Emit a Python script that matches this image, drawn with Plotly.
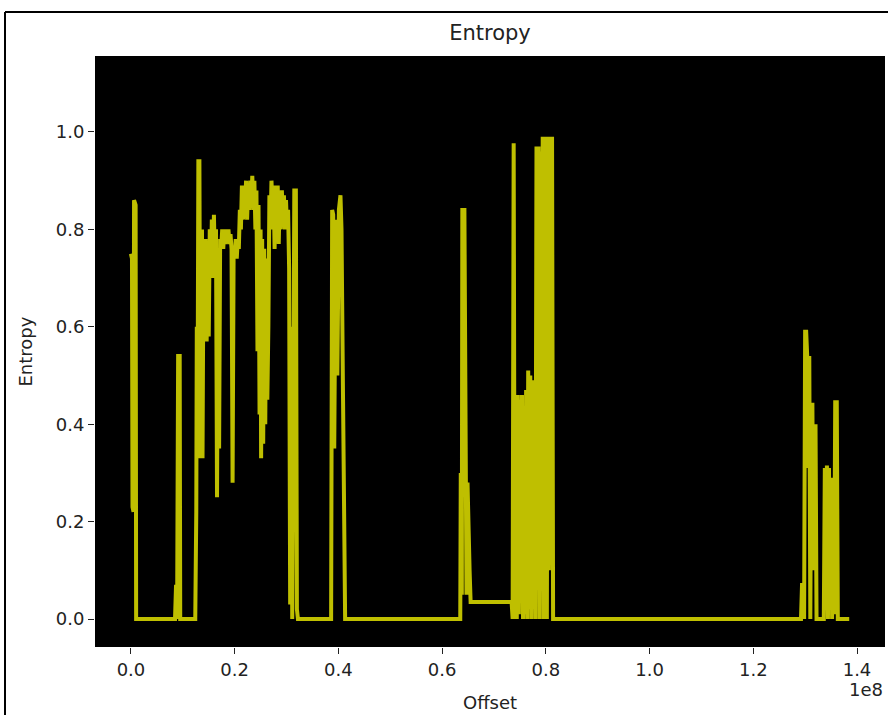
import plotly.graph_objects as go

# offsets in MB (x1e6) and entropy values
offset_mb = [
    0.0, 0.2, 0.3, 0.5, 0.6, 0.9, 1.0, 1.2,
    8.5, 8.7, 8.9, 9.1, 9.4, 9.5, 12.4,
    12.6, 12.7, 12.8, 12.9, 13.0, 13.2, 13.3, 13.4, 13.6, 13.7, 13.8,
    14.0, 14.2, 14.4, 14.6, 14.8, 15.0, 15.2, 15.4, 15.6, 15.8,
    16.0, 16.2, 16.4, 16.6, 16.8, 17.0, 17.2, 17.4, 17.6, 17.8,
    18.0, 18.2, 18.4, 18.6, 18.8, 19.0, 19.2, 19.4, 19.6, 19.8,
    20.0, 20.2, 20.4, 20.6, 20.8, 21.0, 21.2, 21.4, 21.6, 21.8,
    22.0, 22.2, 22.4, 22.6, 22.8, 23.0, 23.2, 23.4, 23.6, 23.8,
    24.0, 24.2, 24.4, 24.6, 24.8, 25.0, 25.1, 25.3, 25.5, 25.7,
    25.9, 26.1, 26.3, 26.5, 26.7, 26.9, 27.1, 27.3, 27.5, 27.7,
    27.9, 28.1, 28.3, 28.5, 28.7, 28.9, 29.1, 29.3, 29.5, 29.7,
    29.9, 30.1, 30.3, 30.5, 30.7, 30.9, 31.1, 31.3, 31.5, 31.8,
    32.0, 32.2,
    38.6, 38.8, 39.0, 39.2, 39.5, 39.8, 40.1, 40.4, 40.6, 40.9, 41.1, 41.3,
    63.5, 63.6, 63.8, 63.9, 64.3, 64.5, 64.7, 64.9, 65.1, 65.3, 65.5,
    73.4, 73.6, 73.8, 74.0, 74.2, 74.4, 74.6, 74.8, 75.0, 75.2, 75.4, 75.6,
    75.8, 76.0, 76.2, 76.4, 76.6, 76.8, 77.0, 77.2, 77.4, 77.6, 77.8, 78.0,
    78.2, 78.4, 78.6, 78.8, 79.0, 79.2, 79.4, 79.6, 79.8, 80.0, 80.2, 80.4,
    80.6, 80.8, 81.0, 81.2, 81.4, 81.6,
    129.2, 129.4, 129.6, 129.8, 130.0, 130.2, 130.4, 130.6, 130.8, 131.0,
    131.2, 131.4, 131.6, 131.8, 132.0, 132.2,
    133.6, 133.8, 134.0, 134.2, 134.4, 134.6, 134.8, 135.0, 135.2, 135.4,
    135.6, 135.8, 136.1, 136.3, 138.5,
]

entropy = [
    0.75, 0.74, 0.23, 0.22, 0.86, 0.85, 0.0, 0.0,
    0.0, 0.07, 0.0, 0.54, 0.54, 0.0, 0.0,
    0.22, 0.60, 0.34, 0.60, 0.94, 0.94, 0.48, 0.33, 0.62, 0.80, 0.33,
    0.78, 0.58, 0.78, 0.57, 0.77, 0.58, 0.80, 0.70, 0.82, 0.70,
    0.83, 0.72, 0.80, 0.25, 0.76, 0.35, 0.78, 0.76, 0.80, 0.76,
    0.80, 0.77, 0.80, 0.78, 0.80, 0.77, 0.79, 0.76, 0.28, 0.76,
    0.74, 0.78, 0.74, 0.78, 0.76, 0.84, 0.80, 0.89, 0.82, 0.89,
    0.84, 0.90, 0.82, 0.89, 0.84, 0.90, 0.85, 0.91, 0.84, 0.90,
    0.80, 0.88, 0.55, 0.85, 0.42, 0.80, 0.33, 0.78, 0.36, 0.76,
    0.40, 0.74, 0.45, 0.60, 0.87, 0.80, 0.90, 0.84, 0.89, 0.76,
    0.89, 0.80, 0.89, 0.77, 0.88, 0.80, 0.88, 0.82, 0.87, 0.80,
    0.86, 0.80, 0.84, 0.72, 0.03, 0.60, 0.0, 0.40, 0.88, 0.88,
    0.02, 0.0,
    0.0, 0.84, 0.83, 0.35, 0.82, 0.50, 0.84, 0.87, 0.80, 0.45, 0.02, 0.0,
    0.0, 0.30, 0.05, 0.84, 0.84, 0.30, 0.05, 0.28, 0.12, 0.10, 0.035,
    0.035, 0.0, 0.977, 0.0, 0.46, 0.0, 0.46, 0.01, 0.45, 0.20, 0.46, 0.0,
    0.40, 0.01, 0.47, 0.0, 0.51, 0.02, 0.50, 0.0, 0.49, 0.03, 0.30, 0.0,
    0.97, 0.72, 0.97, 0.0, 0.96, 0.30, 0.99, 0.0, 0.99, 0.79, 0.0, 0.99,
    0.10, 0.99, 0.40, 0.99, 0.0, 0.0,
    0.0, 0.07, 0.07, 0.0, 0.59, 0.59, 0.54, 0.31, 0.54, 0.0,
    0.44, 0.44, 0.10, 0.27, 0.40, 0.0,
    0.0, 0.31, 0.02, 0.315, 0.0, 0.31, 0.02, 0.29, 0.0, 0.29,
    0.01, 0.445, 0.445, 0.0, 0.0,
]

x_ticks = [0.0, 0.2, 0.4, 0.6, 0.8, 1.0, 1.2, 1.4]
y_ticks = [0.0, 0.2, 0.4, 0.6, 0.8, 1.0]

offsets = [v * 1e6 for v in offset_mb]

fig = go.Figure()
fig.add_trace(go.Scatter(x=offsets, y=entropy, mode='lines',
                         line=dict(color='#bfbf00', width=4),
                         showlegend=False))

font = "DejaVu Sans, Arial, sans-serif"
W, H = 888, 715
L, R, T, B = 95, 3, 56, 68
pw, ph = W - L - R, H - T - B

fig.update_layout(
    width=W, height=H,
    paper_bgcolor='white', plot_bgcolor='black',
    margin=dict(l=L, r=R, t=T, b=B),
    title=dict(text="Entropy", x=(L + pw / 2) / W, xanchor='center',
               y=1 - 33 / H, yanchor='middle',
               font=dict(family=font, size=21, color='#222')),
    font=dict(family=font, size=18, color='#222'),
)

fig.update_xaxes(
    range=[-6.93e6, 145.4e6],
    tickvals=[t * 1e8 for t in x_ticks],
    ticktext=[f"{t:.1f}" for t in x_ticks],
    ticks='outside', ticklen=6, tickcolor='#222', showgrid=False,
    zeroline=False, showline=False,
)
fig.update_yaxes(
    range=[-0.0575, 1.156],
    tickvals=y_ticks,
    ticktext=[f"{t:.1f}" for t in y_ticks],
    ticks='outside', ticklen=6, tickcolor='#222', showgrid=False,
    zeroline=False, showline=False,
)

# axis titles and matplotlib-style exponent text
fig.add_annotation(text="Offset", xref='paper', yref='paper', x=0.5,
                   y=-(702 - (T + ph)) / ph, xanchor='center', yanchor='middle',
                   showarrow=False, font=dict(family=font, size=18, color='#222'))
fig.add_annotation(text="Entropy", xref='paper', yref='paper', x=(25 - L) / pw,
                   y=0.5, xanchor='center', yanchor='middle', textangle=-90,
                   showarrow=False, font=dict(family=font, size=18, color='#222'))
fig.add_annotation(text="1e8", xref='paper', yref='paper', x=1.0,
                   y=-(689 - (T + ph)) / ph, xanchor='right', yanchor='middle',
                   showarrow=False, font=dict(family=font, size=18, color='#222'))

# figure frame (left and top edges)
fx = (5 - L) / pw
fy = 1 + (T - 12) / ph
fig.add_shape(type='line', xref='paper', yref='paper', x0=fx, x1=fx,
              y0=-0.2, y1=fy, line=dict(color='black', width=2))
fig.add_shape(type='line', xref='paper', yref='paper', x0=fx, x1=1.01,
              y0=fy, y1=fy, line=dict(color='black', width=2))

# drop the page's default body margin so the figure sits at the window origin
fig.write_html("out.html", config={'displayModeBar': False},
               post_script="document.body.style.margin='0';")
